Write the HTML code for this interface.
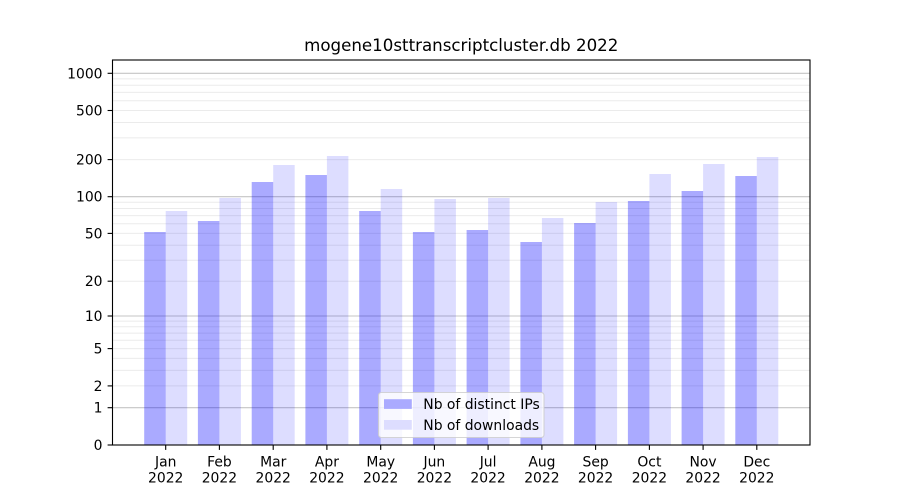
<!DOCTYPE html>
<html>
<head>
<meta charset="utf-8">
<style>
  html, body { margin: 0; padding: 0; background: #ffffff; }
  svg { display: block; }
  text { font-family: "DejaVu Sans", "Liberation Sans", sans-serif; fill: #000; }
</style>
</head>
<body>
<svg width="900" height="500" viewBox="0 0 900 500" xmlns="http://www.w3.org/2000/svg">
  <rect x="0" y="0" width="900" height="500" fill="#ffffff"/>

  <!-- minor gridlines -->
  <g stroke="#ebebeb" stroke-width="1">
    <line x1="112.5" x2="810" y1="385.9" y2="385.9"/>
    <line x1="112.5" x2="810" y1="370.4" y2="370.4"/>
    <line x1="112.5" x2="810" y1="358.4" y2="358.4"/>
    <line x1="112.5" x2="810" y1="348.6" y2="348.6"/>
    <line x1="112.5" x2="810" y1="340.3" y2="340.3"/>
    <line x1="112.5" x2="810" y1="333.1" y2="333.1"/>
    <line x1="112.5" x2="810" y1="326.8" y2="326.8"/>
    <line x1="112.5" x2="810" y1="321.1" y2="321.1"/>
    <line x1="112.5" x2="810" y1="281.2" y2="281.2"/>
    <line x1="112.5" x2="810" y1="260.2" y2="260.2"/>
    <line x1="112.5" x2="810" y1="245.2" y2="245.2"/>
    <line x1="112.5" x2="810" y1="233.4" y2="233.4"/>
    <line x1="112.5" x2="810" y1="223.8" y2="223.8"/>
    <line x1="112.5" x2="810" y1="215.6" y2="215.6"/>
    <line x1="112.5" x2="810" y1="208.5" y2="208.5"/>
    <line x1="112.5" x2="810" y1="202.3" y2="202.3"/>
    <line x1="112.5" x2="810" y1="159.6" y2="159.6"/>
    <line x1="112.5" x2="810" y1="137.9" y2="137.9"/>
    <line x1="112.5" x2="810" y1="122.5" y2="122.5"/>
    <line x1="112.5" x2="810" y1="110.5" y2="110.5"/>
    <line x1="112.5" x2="810" y1="100.7" y2="100.7"/>
    <line x1="112.5" x2="810" y1="92.4" y2="92.4"/>
    <line x1="112.5" x2="810" y1="85.2" y2="85.2"/>
    <line x1="112.5" x2="810" y1="78.9" y2="78.9"/>
  </g>
  <!-- major gridlines -->
  <g stroke="#c4c4c4" stroke-width="1.1">
    <line x1="112.5" x2="810" y1="407.7" y2="407.7"/>
    <line x1="112.5" x2="810" y1="316.0" y2="316.0"/>
    <line x1="112.5" x2="810" y1="196.7" y2="196.7"/>
    <line x1="112.5" x2="810" y1="73.3" y2="73.3"/>
  </g>

  <!-- bars: distinct IPs -->
  <g fill="rgba(0,0,255,0.333)">
    <rect x="144.2" y="232" width="21.5" height="213"/>
    <rect x="197.9" y="221" width="21.5" height="224"/>
    <rect x="251.7" y="182" width="21.5" height="263"/>
    <rect x="305.4" y="175" width="21.5" height="270"/>
    <rect x="359.2" y="211" width="21.5" height="234"/>
    <rect x="412.9" y="232" width="21.5" height="213"/>
    <rect x="466.6" y="230" width="21.5" height="215"/>
    <rect x="520.4" y="242" width="21.5" height="203"/>
    <rect x="574.1" y="223" width="21.5" height="222"/>
    <rect x="627.9" y="201" width="21.5" height="244"/>
    <rect x="681.6" y="191" width="21.5" height="254"/>
    <rect x="735.3" y="176" width="21.5" height="269"/>
  </g>
  <!-- bars: downloads -->
  <g fill="rgba(0,0,255,0.133)">
    <rect x="165.7" y="211" width="21.5" height="234"/>
    <rect x="219.4" y="198" width="21.5" height="247"/>
    <rect x="273.2" y="165" width="21.5" height="280"/>
    <rect x="326.9" y="156" width="21.5" height="289"/>
    <rect x="380.7" y="189" width="21.5" height="256"/>
    <rect x="434.4" y="199" width="21.5" height="246"/>
    <rect x="488.1" y="198" width="21.5" height="247"/>
    <rect x="541.9" y="218" width="21.5" height="227"/>
    <rect x="595.6" y="202" width="21.5" height="243"/>
    <rect x="649.4" y="174" width="21.5" height="271"/>
    <rect x="703.1" y="164" width="21.5" height="281"/>
    <rect x="756.8" y="157" width="21.5" height="288"/>
  </g>

  <!-- spines -->
  <rect x="112.5" y="60" width="697.5" height="385" fill="none" stroke="#000" stroke-width="1.1"/>

  <!-- y ticks -->
  <g stroke="#000" stroke-width="1.1">
    <line x1="107.6" x2="112.5" y1="445" y2="445"/>
    <line x1="107.6" x2="112.5" y1="407.7" y2="407.7"/>
    <line x1="107.6" x2="112.5" y1="385.9" y2="385.9"/>
    <line x1="107.6" x2="112.5" y1="348.6" y2="348.6"/>
    <line x1="107.6" x2="112.5" y1="316.0" y2="316.0"/>
    <line x1="107.6" x2="112.5" y1="281.2" y2="281.2"/>
    <line x1="107.6" x2="112.5" y1="233.4" y2="233.4"/>
    <line x1="107.6" x2="112.5" y1="196.7" y2="196.7"/>
    <line x1="107.6" x2="112.5" y1="159.6" y2="159.6"/>
    <line x1="107.6" x2="112.5" y1="110.5" y2="110.5"/>
    <line x1="107.6" x2="112.5" y1="73.3" y2="73.3"/>
  </g>
  <g font-size="13.9" text-anchor="end">
    <text x="102.5" y="450">0</text>
    <text x="102.5" y="412.7">1</text>
    <text x="102.5" y="390.9">2</text>
    <text x="102.5" y="353.6">5</text>
    <text x="102.5" y="321">10</text>
    <text x="102.5" y="286.2">20</text>
    <text x="102.5" y="238.4">50</text>
    <text x="102.5" y="201.7">100</text>
    <text x="102.5" y="164.6">200</text>
    <text x="102.5" y="115.5">500</text>
    <text x="102.5" y="78.3">1000</text>
  </g>

  <!-- x ticks -->
  <g stroke="#000" stroke-width="1.1">
    <line x1="165.7" x2="165.7" y1="445" y2="449.9"/>
    <line x1="219.4" x2="219.4" y1="445" y2="449.9"/>
    <line x1="273.2" x2="273.2" y1="445" y2="449.9"/>
    <line x1="326.9" x2="326.9" y1="445" y2="449.9"/>
    <line x1="380.7" x2="380.7" y1="445" y2="449.9"/>
    <line x1="434.4" x2="434.4" y1="445" y2="449.9"/>
    <line x1="488.1" x2="488.1" y1="445" y2="449.9"/>
    <line x1="541.9" x2="541.9" y1="445" y2="449.9"/>
    <line x1="595.6" x2="595.6" y1="445" y2="449.9"/>
    <line x1="649.4" x2="649.4" y1="445" y2="449.9"/>
    <line x1="703.1" x2="703.1" y1="445" y2="449.9"/>
    <line x1="756.8" x2="756.8" y1="445" y2="449.9"/>
  </g>
  <g font-size="13.9" text-anchor="middle">
    <text x="165.7" y="466.5">Jan</text><text x="165.7" y="482.5">2022</text>
    <text x="219.4" y="466.5">Feb</text><text x="219.4" y="482.5">2022</text>
    <text x="273.2" y="466.5">Mar</text><text x="273.2" y="482.5">2022</text>
    <text x="326.9" y="466.5">Apr</text><text x="326.9" y="482.5">2022</text>
    <text x="380.7" y="466.5">May</text><text x="380.7" y="482.5">2022</text>
    <text x="434.4" y="466.5">Jun</text><text x="434.4" y="482.5">2022</text>
    <text x="488.1" y="466.5">Jul</text><text x="488.1" y="482.5">2022</text>
    <text x="541.9" y="466.5">Aug</text><text x="541.9" y="482.5">2022</text>
    <text x="595.6" y="466.5">Sep</text><text x="595.6" y="482.5">2022</text>
    <text x="649.4" y="466.5">Oct</text><text x="649.4" y="482.5">2022</text>
    <text x="703.1" y="466.5">Nov</text><text x="703.1" y="482.5">2022</text>
    <text x="756.8" y="466.5">Dec</text><text x="756.8" y="482.5">2022</text>
  </g>

  <!-- title -->
  <text x="461.25" y="51" font-size="16.67" text-anchor="middle">mogene10sttranscriptcluster.db 2022</text>

  <!-- legend -->
  <rect x="378.5" y="392.5" width="165.5" height="45" rx="2.8" ry="2.8" fill="rgba(255,255,255,0.8)" stroke="rgba(204,204,204,0.8)" stroke-width="1.1"/>
  <rect x="384" y="399.2" width="27.8" height="9.7" fill="#aaaaff"/>
  <rect x="384" y="420" width="27.8" height="9.7" fill="#ddddff"/>
  <text x="423.3" y="409" font-size="13.9">Nb of distinct IPs</text>
  <text x="423.3" y="430" font-size="13.9">Nb of downloads</text>
</svg>
</body>
</html>
